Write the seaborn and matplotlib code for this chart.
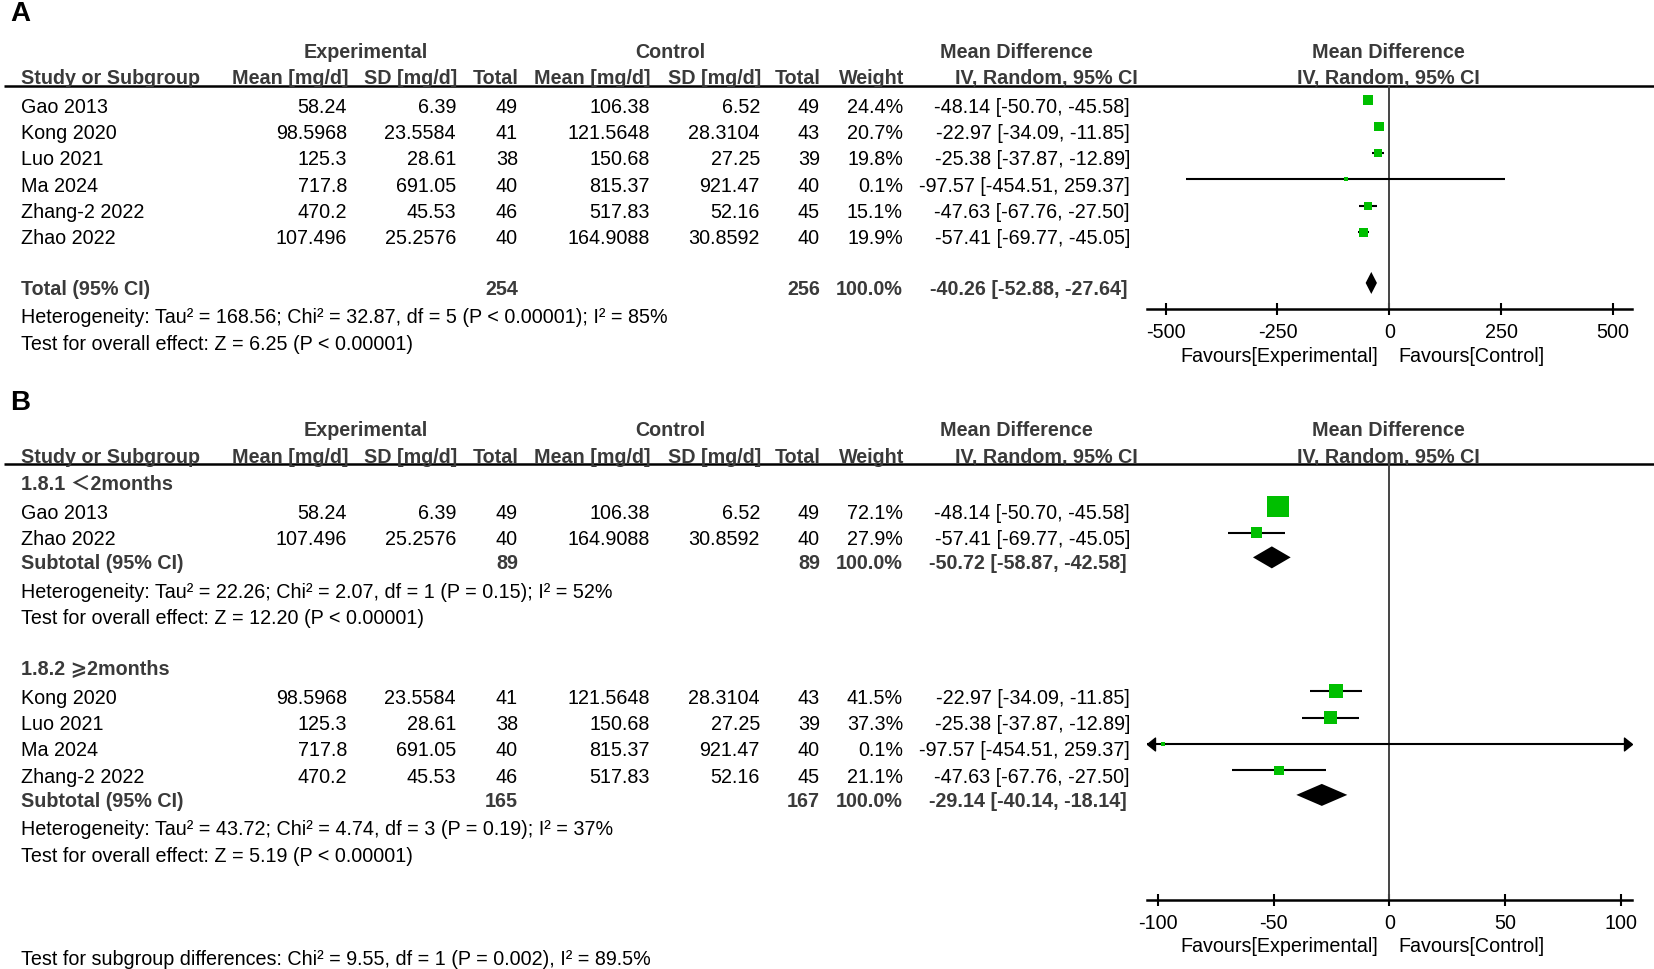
import matplotlib
matplotlib.use("Agg")
import matplotlib.pyplot as plt
import seaborn as sns

sns.set_theme(style="white")
plt.rcParams['font.family'] = ['Liberation Sans', 'Noto Sans CJK SC', 'DejaVu Sans']
plt.rcParams['axes.unicode_minus'] = False

# ---- study data ----
studies = ["Gao 2013", "Kong 2020", "Luo 2021", "Ma 2024", "Zhang-2 2022", "Zhao 2022"]
exp_mean = ["58.24", "98.5968", "125.3", "717.8", "470.2", "107.496"]
exp_sd = ["6.39", "23.5584", "28.61", "691.05", "45.53", "25.2576"]
exp_n = [49, 41, 38, 40, 46, 40]
ctl_mean = ["106.38", "121.5648", "150.68", "815.37", "517.83", "164.9088"]
ctl_sd = ["6.52", "28.3104", "27.25", "921.47", "52.16", "30.8592"]
ctl_n = [49, 43, 39, 40, 45, 40]
md = [-48.14, -22.97, -25.38, -97.57, -47.63, -57.41]
ci_lo = [-50.70, -34.09, -37.87, -454.51, -67.76, -69.77]
ci_hi = [-45.58, -11.85, -12.89, 259.37, -27.50, -45.05]
weight_all = [24.4, 20.7, 19.8, 0.1, 15.1, 19.9]

# pooled (panel A)
total_n = [254, 256]
total_md = [-40.26, -52.88, -27.64]
total_het = "Heterogeneity: Tau² = 168.56; Chi² = 32.87, df = 5 (P < 0.00001); I² = 85%"
total_test = "Test for overall effect: Z = 6.25 (P < 0.00001)"

# subgroups (panel B)
sub_names = ["1.8.1 ＜2months", "1.8.2 ⩾2months"]
sub_members = [[0, 5], [1, 2, 3, 4]]
sub_weights = [[72.1, 27.9], [41.5, 37.3, 0.1, 21.1]]
sub_n = [[89, 89], [165, 167]]
sub_md = [[-50.72, -58.87, -42.58], [-29.14, -40.14, -18.14]]
sub_het = ["Heterogeneity: Tau² = 22.26; Chi² = 2.07, df = 1 (P = 0.15); I² = 52%",
           "Heterogeneity: Tau² = 43.72; Chi² = 4.74, df = 3 (P = 0.19); I² = 37%"]
sub_test = ["Test for overall effect: Z = 12.20 (P < 0.00001)",
            "Test for overall effect: Z = 5.19 (P < 0.00001)"]
sub_diff = "Test for subgroup differences: Chi² = 9.55, df = 1 (P = 0.002), I² = 89.5%"

ticks_a = [-500, -250, 0, 250, 500]
ticks_b = [-100, -50, 0, 50, 100]

# ---- layout (pixels) ----
W, H = 1654, 969
FS = 14.2
GREY = '#3a3a3a'
GREEN = '#00BF00'
ROW = 26.37
X0 = 1389.3       # zero line
HALF = 242.6      # half width of forest axis
COLS = [347, 456, 518, 650, 760, 820, 903]
X_CI = 1130

fig = plt.figure(figsize=(W / 100, H / 100), dpi=100)
bg = fig.add_axes([0, 0, 1, 1])
bg.set_xlim(0, W)
bg.set_ylim(H, 0)
bg.axis('off')


def txt(x, y, s, ha='left', bold=False, size=FS):
    bg.text(x, y + 7, s, ha=ha, va='baseline', fontsize=size,
            fontweight='bold' if bold else 'normal', color=GREY if bold else 'black')


def header(y1):
    y2 = y1 + 26.4
    txt(366, y1, "Experimental", 'center', True)
    txt(670, y1, "Control", 'center', True)
    txt(1016, y1, "Mean Difference", 'center', True)
    txt(1388, y1, "Mean Difference", 'center', True)
    txt(21, y2, "Study or Subgroup", bold=True)
    labels = ["Mean [mg/d]", "SD [mg/d]", "Total", "Mean [mg/d]", "SD [mg/d]", "Total", "Weight"]
    for x, s in zip(COLS, labels):
        txt(x + 1, y2, s, 'right', True)
    txt(1138, y2, "IV, Random, 95% CI", 'right', True)
    txt(1388, y2, "IV, Random, 95% CI", 'center', True)
    bg.plot([4, W], [y2 + 8.5, y2 + 8.5], color='black', lw=1.8, solid_capstyle='butt')


def study_row(y, i, w):
    txt(21, y, studies[i])
    vals = [exp_mean[i], exp_sd[i], str(exp_n[i]), ctl_mean[i], ctl_sd[i], str(ctl_n[i]), f"{w:.1f}%"]
    for x, s in zip(COLS, vals):
        txt(x, y, s, 'right')
    txt(X_CI, y, f"{md[i]:.2f} [{ci_lo[i]:.2f}, {ci_hi[i]:.2f}]", 'right')


def pooled_row(y, label, n, est):
    txt(21, y, label, bold=True)
    txt(COLS[2], y, str(n[0]), 'right', True)
    txt(COLS[5], y, str(n[1]), 'right', True)
    txt(COLS[6], y, "100.0%", 'right', True)
    txt(X_CI - 3, y, f"{est[0]:.2f} [{est[1]:.2f}, {est[2]:.2f}]", 'right', True)


def forest_axes(y_top, y_axis, ticks, xmax):
    ax = fig.add_axes([(X0 - HALF) / W, 1 - y_axis / H, 2 * HALF / W, (y_axis - y_top) / H])
    ax.patch.set_alpha(0)
    for s in ['top', 'left', 'right']:
        ax.spines[s].set_visible(False)
    ax.spines['bottom'].set_linewidth(1.8)
    ax.spines['bottom'].set_color('black')
    ax.set_xticks(ticks)
    ax.set_xticklabels([str(t) for t in ticks])
    ax.tick_params(axis='x', direction='inout', length=8.6, width=1.5, pad=5.8,
                   labelsize=FS, colors='black', bottom=True)
    ax.set_yticks([])
    ax.axvline(0, color='#444444', lw=1.4, zorder=1)
    ax.grid(False)
    ax.set_xlim(-xmax, xmax)
    ax.set_ylim(y_axis, y_top)
    fy = y_axis + 45.5
    txt(X0 - 11, fy, "Favours[Experimental]", 'right')
    txt(X0 + 9, fy, "Favours[Control]", 'left')
    return ax


LEFT_ARROW = [(0, 0), (1, 0.8), (1, -0.8), (0, 0)]
RIGHT_ARROW = [(0, 0), (-1, 0.8), (-1, -0.8), (0, 0)]


def draw_studies(ax, ys, idx, ws):
    xmin, xmax = ax.get_xlim()
    ylim = ax.get_ylim()
    my = [y - 5.2 for y in ys]
    for y, i in zip(my, idx):
        lo, hi = max(ci_lo[i], xmin), min(ci_hi[i], xmax)
        ax.hlines(y, lo, hi, color='black', lw=1.5, zorder=2)
        if ci_lo[i] < xmin:
            ax.plot(xmin, y, marker=LEFT_ARROW, color='black', ms=11.5, clip_on=False, zorder=3)
        if ci_hi[i] > xmax:
            ax.plot(xmax, y, marker=RIGHT_ARROW, color='black', ms=11.5, clip_on=False, zorder=3)
    sizes = [(0.72 * (4.0 + 0.245 * w)) ** 2 for w in ws]
    sns.scatterplot(x=[md[i] for i in idx], y=my, s=sizes, marker='s', color=GREEN,
                    linewidth=0, ax=ax, zorder=4, legend=False)
    ax.set_xlim(xmin, xmax)
    ax.set_ylim(*ylim)
    ax.set_xlabel('')
    ax.set_ylabel('')


def diamond(ax, y, est):
    y = y - 5
    ax.fill([est[1], est[0], est[2], est[0]], [y, y - 11, y, y + 11], color='black', lw=0, zorder=4)


# ---- panel A ----
txt(10, 14, "A", bold=True, size=20)
bg.texts[-1].set_color('black')
header(50.6)
ys_a = [105.5 + ROW * k for k in range(len(studies))]
for y, i in zip(ys_a, range(len(studies))):
    study_row(y, i, weight_all[i])
y_tot = ys_a[-1] + 50.6
pooled_row(y_tot, "Total (95% CI)", total_n, total_md)
txt(21, y_tot + 28.5, total_het)
txt(21, y_tot + 28.5 + ROW, total_test)

ax_a = forest_axes(85.5, 309, ticks_a, HALF / 0.4474)
draw_studies(ax_a, ys_a, list(range(len(studies))), weight_all)
diamond(ax_a, y_tot, total_md)

# ---- panel B ----
txt(10, 403, "B", bold=True, size=20)
bg.texts[-1].set_color('black')
header(429.4)
ax_b = forest_axes(464.2, 899.5, ticks_b, HALF / 2.316)

group_top = [483, 667.8]
for g in range(2):
    txt(21, group_top[g], sub_names[g], bold=True)
    ys = [group_top[g] + 28.7 + ROW * k for k in range(len(sub_members[g]))]
    for y, i, w in zip(ys, sub_members[g], sub_weights[g]):
        study_row(y, i, w)
    draw_studies(ax_b, ys, sub_members[g], sub_weights[g])
    y_sub = ys[-1] + 24.3
    pooled_row(y_sub, "Subtotal (95% CI)", sub_n[g], sub_md[g])
    diamond(ax_b, y_sub, sub_md[g])
    txt(21, y_sub + 28.5, sub_het[g])
    txt(21, y_sub + 28.5 + ROW, sub_test[g])

txt(21, 958, sub_diff)

fig.savefig("out.png", dpi=100)
